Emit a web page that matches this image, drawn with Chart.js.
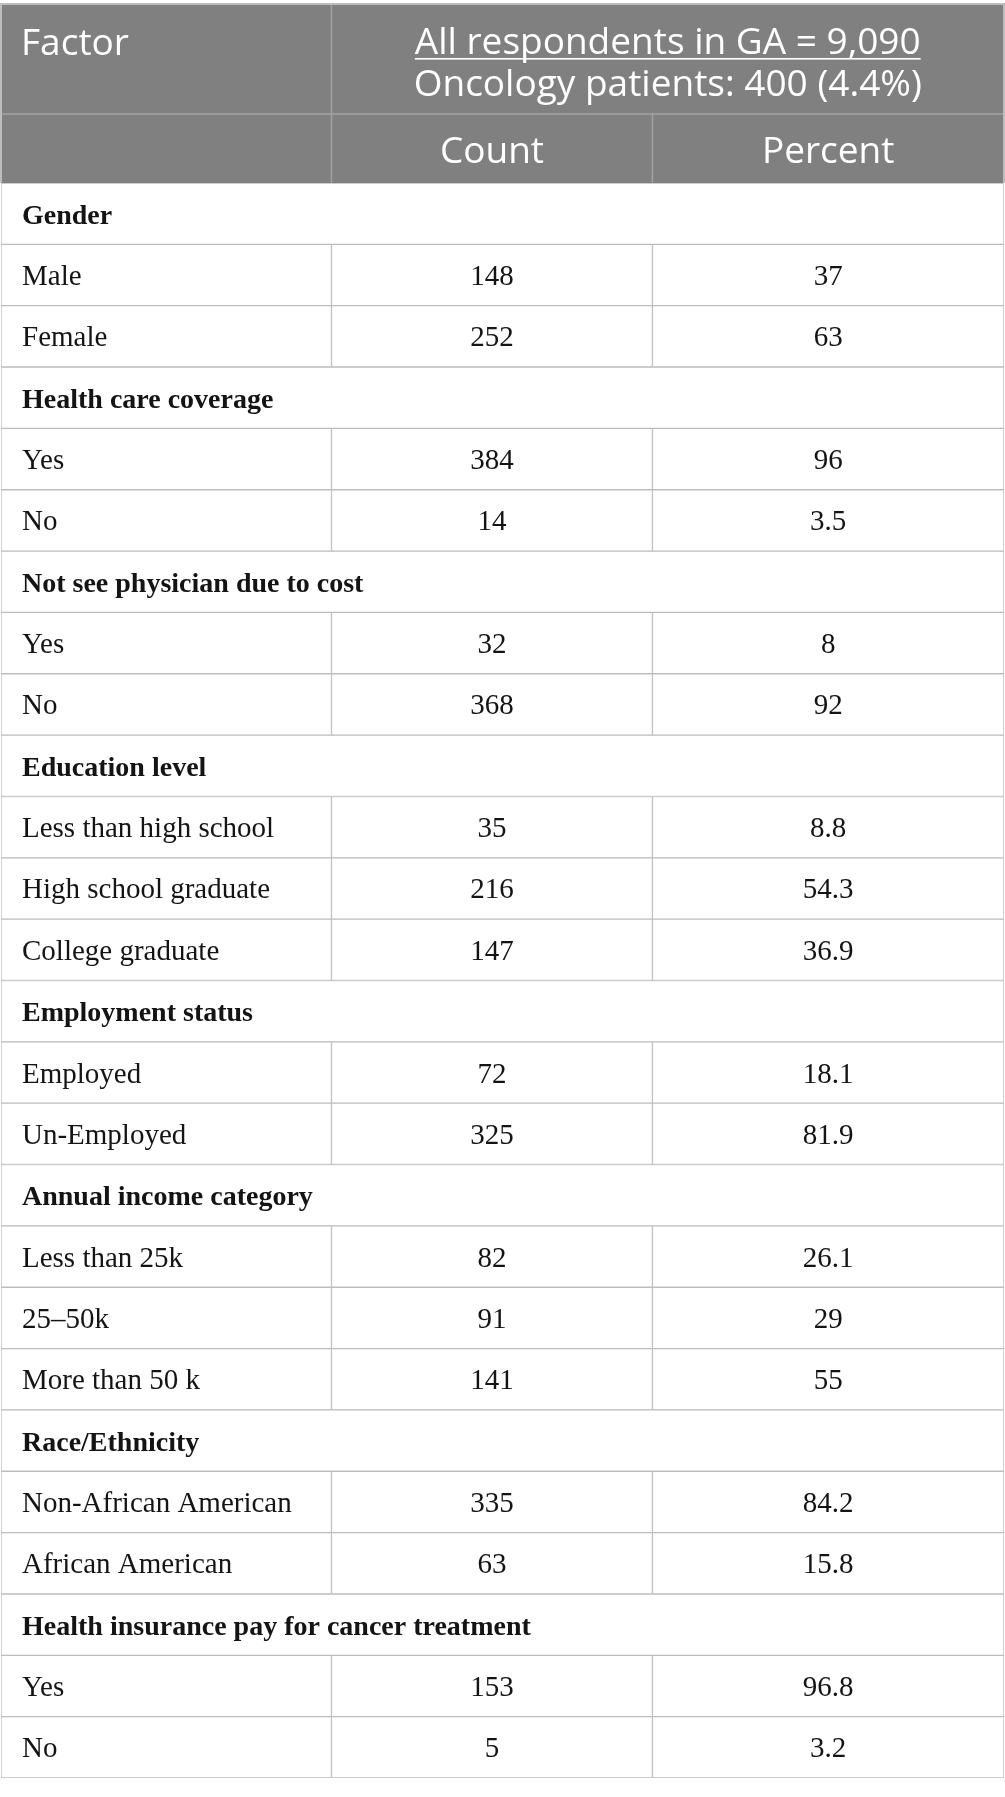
<!DOCTYPE html>
<html>
<head>
<meta charset="utf-8">
<script src="https://cdn.jsdelivr.net/npm/chart.js@4.4.1/dist/chart.umd.min.js"></script>
<style>
  html, body { margin: 0; padding: 0; background: #ffffff; }
  #wrap { width: 1005px; height: 1797px; position: relative; }
</style>
</head>
<body>
<div id="wrap"><canvas id="c"></canvas></div>
<script>
const factors = [
  'Gender', 'Male', 'Female',
  'Health care coverage', 'Yes', 'No',
  'Not see physician due to cost', 'Yes', 'No',
  'Education level', 'Less than high school', 'High school graduate', 'College graduate',
  'Employment status', 'Employed', 'Un-Employed',
  'Annual income category', 'Less than 25k', '25\u201350k', 'More than 50 k',
  'Race/Ethnicity', 'Non-African American', 'African American',
  'Health insurance pay for cancer treatment', 'Yes', 'No'
];
const counts = [
  null, 148, 252,
  null, 384, 14,
  null, 32, 368,
  null, 35, 216, 147,
  null, 72, 325,
  null, 82, 91, 141,
  null, 335, 63,
  null, 153, 5
];
const percents = [
  null, 37, 63,
  null, 96, 3.5,
  null, 8, 92,
  null, 8.8, 54.3, 36.9,
  null, 18.1, 81.9,
  null, 26.1, 29, 55,
  null, 84.2, 15.8,
  null, 96.8, 3.2
];
const headerFactor = 'Factor';
const headerGroup = ['All respondents in GA = 9,090', 'Oncology patients: 400 (4.4%)'];
const headerColumns = ['Count', 'Percent'];

// ---- Layout (not data) ----
const colEdges = [0, 0.3295, 0.6495, 1];     // fraction of table width
const headerHeights = [110, 69];
const BORDER = '#bdbdbd';
const HEAD_BG = '#808080';
const HEAD_LINE = '#a2a2a2';
const BODY_FONT = '29px "Liberation Serif", "DejaVu Serif", serif';
const BODY_FONT_B = 'bold 28px "Liberation Serif", "DejaVu Serif", serif';
const HEAD_FONT = '400 37px "Open Sans", "Lato", sans-serif';

const isSection = counts.map(v => v === null);
const col0 = factors.map((f, i) => isSection[i] ? [colEdges[0], colEdges[3]] : [colEdges[0], colEdges[1]]);
const col1 = factors.map((f, i) => isSection[i] ? null : [colEdges[1], colEdges[2]]);
const col2 = factors.map((f, i) => isSection[i] ? null : [colEdges[2], colEdges[3]]);
const cellTexts = [
  factors,
  counts.map(v => v === null ? '' : String(v)),
  percents.map(v => v === null ? '' : String(v))
];

const tablePlugin = {
  id: 'tablePlugin',
  beforeDatasetsDraw(chart) {
    const ctx = chart.ctx;
    const area = chart.chartArea;
    const x = chart.scales.x;
    const bottom = area.top;
    const top = bottom - headerHeights[0] - headerHeights[1];
    const mid = top + headerHeights[0];
    const xL = x.getPixelForValue(colEdges[0]);
    const x1 = x.getPixelForValue(colEdges[1]);
    const x2 = x.getPixelForValue(colEdges[2]);
    const xR = x.getPixelForValue(colEdges[3]);
    ctx.save();
    // outer frame of header
    ctx.fillStyle = BORDER;
    ctx.fillRect(xL - 1, top - 1, xR - xL + 2, bottom - top + 1);
    ctx.fillStyle = HEAD_BG;
    ctx.fillRect(xL + 1, top + 1, xR - xL - 2, bottom - top - 1);
    // inner header lines
    ctx.strokeStyle = HEAD_LINE;
    ctx.lineWidth = 1.5;
    ctx.beginPath();
    ctx.moveTo(xL + 1, mid); ctx.lineTo(xR - 1, mid);
    ctx.moveTo(x1, top + 1); ctx.lineTo(x1, bottom);
    ctx.moveTo(x2, mid); ctx.lineTo(x2, bottom);
    ctx.stroke();
    // header text
    ctx.fillStyle = '#ffffff';
    ctx.font = HEAD_FONT;
    ctx.textBaseline = 'alphabetic';
    ctx.textAlign = 'left';
    ctx.fillText(headerFactor, xL + 20, top + 51);
    ctx.textAlign = 'center';
    const cg = (x1 + xR) / 2;
    ctx.fillText(headerGroup[0], cg, top + 50);
    const w = ctx.measureText(headerGroup[0]).width;
    ctx.fillRect(cg - w / 2, top + 54, w, 1.6);
    ctx.fillText(headerGroup[1], cg, top + 92);
    ctx.fillText(headerColumns[0], (x1 + x2) / 2, mid + 49);
    ctx.fillText(headerColumns[1], (x2 + xR) / 2, mid + 49);
    ctx.restore();
  },
  afterDatasetsDraw(chart) {
    const ctx = chart.ctx;
    ctx.save();
    ctx.fillStyle = '#141414';
    ctx.textBaseline = 'alphabetic';
    for (let d = 0; d < 3; d++) {
      const meta = chart.getDatasetMeta(d);
      meta.data.forEach((el, i) => {
        const txt = cellTexts[d][i];
        if (!txt) return;
        const p = el.getProps(['x', 'y', 'base'], true);
        const left = Math.min(p.x, p.base);
        const right = Math.max(p.x, p.base);
        const by = p.y + 10;
        if (d === 0) {
          ctx.font = isSection[i] ? BODY_FONT_B : BODY_FONT;
          ctx.textAlign = 'left';
          ctx.fillText(txt, left + 21, by);
        } else {
          ctx.font = BODY_FONT;
          ctx.textAlign = 'center';
          ctx.fillText(txt, (left + right) / 2, by);
        }
      });
    }
    ctx.restore();
  }
};

const barStyle = {
  backgroundColor: '#ffffff',
  borderColor: BORDER,
  borderWidth: 1,
  borderSkipped: false,
  barPercentage: 1,
  categoryPercentage: 1,
  grouped: false
};

new Chart(document.getElementById('c'), {
  type: 'bar',
  data: {
    labels: factors,
    datasets: [
      Object.assign({ label: 'Factor', data: col0 }, barStyle),
      Object.assign({ label: 'Count', data: col1 }, barStyle),
      Object.assign({ label: 'Percent', data: col2 }, barStyle)
    ]
  },
  options: {
    indexAxis: 'y',
    responsive: true,
    maintainAspectRatio: false,
    animation: false,
    layout: { padding: { top: 183, bottom: 19, left: 1, right: 1 } },
    plugins: { legend: { display: false }, tooltip: { enabled: false } },
    scales: {
      x: { type: 'linear', min: 0, max: 1, display: false },
      y: { type: 'category', display: false, offset: true }
    }
  },
  plugins: [tablePlugin]
});
</script>
</body>
</html>
